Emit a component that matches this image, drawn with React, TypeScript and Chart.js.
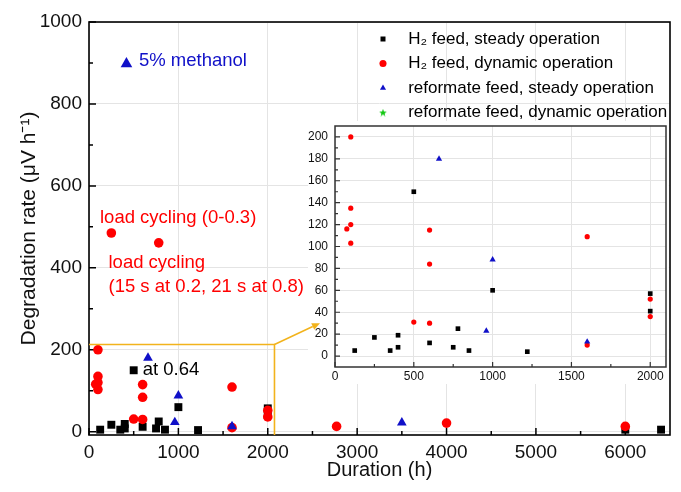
import React, { useEffect, useRef } from "react";
import { Chart, registerables } from "chart.js";
Chart.register(...registerables);

const FONT = '"Liberation Sans", Arial, Helvetica, sans-serif';

// ---------------- data ----------------
const seriesNames = [
  "H\u2082 feed, steady operation",
  "H\u2082 feed, dynamic operation",
  "reformate feed, steady operation",
  "reformate feed, dynamic operation",
];

const h2SteadyX = [125, 250, 350, 400, 400, 500, 600, 750, 780, 850, 1000, 1220, 2000, 2000, 6000, 6400];
const h2SteadyY = [5, 17, 5, 19, 8, 150, 12, 8, 25, 5, 60, 4, 57, 41, 5, 5];

const h2DynamicX = [75, 100, 100, 100, 100, 250, 500, 600, 600, 600, 780, 1600, 1600, 2000, 2000, 2770, 4000, 6000];
const h2DynamicY = [116, 200, 135, 120, 103, 485, 31, 115, 84, 30, 461, 109, 10, 52, 36, 13, 21, 13];

const refSteadyX = [660, 960, 1000, 1600, 3500];
const refSteadyY = [180, 23, 88, 13, 22];

const refDynamicX = [960, 4030, 4170];
const refDynamicY = [22, 9, 10];

const mainXTicks = [0, 1000, 2000, 3000, 4000, 5000, 6000];
const mainXMinor = [500, 1500, 2500, 3500, 4500, 5500];
const mainYTicks = [0, 200, 400, 600, 800, 1000];
const mainYMinor = [100, 300, 500, 700, 900];

const insetXTicks = [0, 500, 1000, 1500, 2000];
const insetXMinor = [250, 750, 1250, 1750];
const insetYTicks = [0, 20, 40, 60, 80, 100, 120, 140, 160, 180, 200];
const insetYMinor = [10, 30, 50, 70, 90, 110, 130, 150, 170, 190];

const MAIN_X_RANGE = [0, 6500];
const MAIN_Y_RANGE = [-8, 1000];
const INSET_X_RANGE = [0, 2100];
const INSET_Y_RANGE = [-10, 210];

// zoom box (region shown in inset) and arrow tip, in main-chart data units
const zoomBox = [2075, 213];
const arrowTip = [2584, 265];

const textNotes = [
  { text: "5% methanol", x: 559, y: 905, color: "#1010c8" },
  { text: "at 0.64", x: 600, y: 150, color: "#000000" },
  { text: "load cycling (0-0.3)", x: 123, y: 522, color: "#ff0000" },
  { text: "load cycling", x: 218, y: 412, color: "#ff0000" },
  { text: "(15 s at 0.2, 21 s at 0.8)", x: 218, y: 353, color: "#ff0000" },
];
const methanolMarker = [419, 898];

// ---------------- styles ----------------
const colors = ["#000000", "#ff0000", "#1010c8", "#14c814"];
const styles = ["rect", "circle", "triangle", "star"];

// inset canvas placement and its white panel (page pixels)
const INSET_LEFT = 306;
const INSET_TOP = 121;
const INSET_W = 364;
const INSET_H = 263;
const PANEL = { left: 308, top: 121, right: 668.8, bottom: 384 };

function makeStar(size: number, color: string) {
  const c = document.createElement("canvas");
  c.width = size;
  c.height = size;
  const ctx = c.getContext("2d")!;
  const R = size / 2;
  const r = R * 0.42;
  const cx = size / 2;
  const cy = size / 2 + R * 0.1;
  ctx.beginPath();
  for (let i = 0; i < 10; i++) {
    const a = -Math.PI / 2 + (i * Math.PI) / 5;
    const rr = i % 2 === 0 ? R : r;
    ctx.lineTo(cx + rr * Math.cos(a), cy + rr * Math.sin(a));
  }
  ctx.closePath();
  ctx.fillStyle = color;
  ctx.fill();
  return c;
}

function pts(xs: number[], ys: number[], filter?: (x: number, y: number) => boolean) {
  const out: { x: number; y: number }[] = [];
  xs.forEach((x, i) => {
    if (!filter || filter(x, ys[i])) out.push({ x, y: ys[i] });
  });
  return out;
}

function buildDatasets(sizes: number[], star: HTMLCanvasElement, filter?: (x: number, y: number) => boolean) {
  const xsAll = [h2SteadyX, h2DynamicX, refSteadyX, refDynamicX];
  const ysAll = [h2SteadyY, h2DynamicY, refSteadyY, refDynamicY];
  return seriesNames.map((name, i) => ({
    label: name,
    data: pts(xsAll[i], ysAll[i], filter),
    pointStyle: i === 3 ? star : styles[i],
    pointRadius: sizes[i],
    backgroundColor: colors[i],
    borderColor: colors[i],
    borderWidth: 0,
    showLine: false,
    order: 4 - i,
  }));
}

// inward tick marks + frame
const frameTicks = {
  id: "frameTicks",
  beforeDatasetsDraw(chart: any, _a: any, o: any) {
    const { ctx, chartArea: a, scales } = chart;
    const x = scales.x;
    const y = scales.y;
    ctx.save();
    if (o.panel) {
      ctx.fillStyle = "#ffffff";
      ctx.fillRect(o.panel.left, o.panel.top, o.panel.right - o.panel.left, o.panel.bottom - o.panel.top);
    }
    ctx.strokeStyle = o.color;
    ctx.lineWidth = o.width;
    ctx.beginPath();
    const xt = (vals: number[], len: number) =>
      vals.forEach((v) => {
        const px = x.getPixelForValue(v);
        ctx.moveTo(px, a.bottom);
        ctx.lineTo(px, a.bottom - len);
      });
    const yt = (vals: number[], len: number) =>
      vals.forEach((v) => {
        const py = y.getPixelForValue(v);
        ctx.moveTo(a.left, py);
        ctx.lineTo(a.left + len, py);
      });
    xt(o.xMajor, o.major);
    xt(o.xMinor, o.minor);
    yt(o.yMajor, o.major);
    yt(o.yMinor, o.minor);
    ctx.stroke();
    ctx.lineWidth = o.frameWidth;
    ctx.strokeRect(a.left, a.top, a.right - a.left, a.bottom - a.top);
    ctx.restore();
  },
};

const notes = {
  id: "notes",
  afterDatasetsDraw(chart: any) {
    const { ctx, chartArea: a, scales } = chart;
    const x = scales.x;
    const y = scales.y;
    ctx.save();
    // zoom box
    const bx = x.getPixelForValue(zoomBox[0]);
    const by = y.getPixelForValue(zoomBox[1]);
    ctx.strokeStyle = "#f2b31c";
    ctx.lineWidth = 1.6;
    ctx.beginPath();
    ctx.moveTo(a.left, by);
    ctx.lineTo(bx, by);
    ctx.lineTo(bx, a.bottom);
    ctx.stroke();
    // arrow
    const tx = x.getPixelForValue(arrowTip[0]);
    const ty = y.getPixelForValue(arrowTip[1]);
    const ang = Math.atan2(ty - by, tx - bx);
    const hl = 8;
    const hw = 3.5;
    const baseX = tx - hl * Math.cos(ang);
    const baseY = ty - hl * Math.sin(ang);
    ctx.beginPath();
    ctx.moveTo(bx, by);
    ctx.lineTo(baseX, baseY);
    ctx.stroke();
    ctx.fillStyle = "#f2b31c";
    ctx.beginPath();
    ctx.moveTo(tx, ty);
    ctx.lineTo(baseX + hw * Math.sin(ang), baseY - hw * Math.cos(ang));
    ctx.lineTo(baseX - hw * Math.sin(ang), baseY + hw * Math.cos(ang));
    ctx.closePath();
    ctx.fill();
    // methanol marker
    ctx.fillStyle = colors[2];
    const mx = x.getPixelForValue(methanolMarker[0]);
    const my = y.getPixelForValue(methanolMarker[1]);
    const r = 6.7;
    ctx.beginPath();
    ctx.moveTo(mx, my - r);
    ctx.lineTo(mx + (r * Math.sqrt(3)) / 2, my + r / 2);
    ctx.lineTo(mx - (r * Math.sqrt(3)) / 2, my + r / 2);
    ctx.closePath();
    ctx.fill();
    // texts
    ctx.font = `18.5px ${FONT}`;
    ctx.textBaseline = "middle";
    ctx.textAlign = "left";
    textNotes.forEach((t) => {
      ctx.fillStyle = t.color;
      ctx.fillText(t.text, x.getPixelForValue(t.x), y.getPixelForValue(t.y));
    });
    ctx.restore();
  },
};

const LEGEND_LEFT = 373;
const LEGEND_TOP = 23;
const legendMover = {
  id: "legendMover",
  afterLayout(chart: any) {
    const lg = chart.legend;
    if (!lg) return;
    const a = chart.chartArea;
    lg.left = LEGEND_LEFT;
    lg.top = LEGEND_TOP;
    lg.right = a.right;
    lg.bottom = a.bottom;
  },
};

function scaleOpts(
  range: number[],
  ticks: number[],
  fontSize: number,
  pad: number,
  size: { w?: number; h?: number },
  title?: any
) {
  return {
    type: "linear",
    min: range[0],
    max: range[1],
    afterBuildTicks: (s: any) => {
      s.ticks = ticks.map((v) => ({ value: v }));
    },
    afterFit: (s: any) => {
      if (size.w !== undefined) s.width = size.w;
      if (size.h !== undefined) s.height = size.h;
      s.paddingTop = 0;
      s.paddingBottom = 0;
      s.paddingLeft = 0;
      s.paddingRight = 0;
    },
    grid: { color: "#e4e4e4", lineWidth: 1, drawTicks: false },
    border: { display: false },
    ticks: {
      autoSkip: false,
      maxRotation: 0,
      padding: pad,
      color: "#111",
      font: { family: FONT, size: fontSize },
      callback: (v: any) => String(v),
    },
    title: title || { display: false },
  };
}

export default function App() {
  const mainRef = useRef<HTMLCanvasElement>(null);
  const insetRef = useRef<HTMLCanvasElement>(null);

  useEffect(() => {
    const bigStar = makeStar(11, colors[3]);
    const smallStar = makeStar(7, colors[3]);
    const legendStar = makeStar(8, colors[3]);

    const main = new Chart(mainRef.current!, {
      type: "scatter",
      data: { datasets: buildDatasets([5.6, 4.8, 5.6, 0], bigStar) as any },
      options: {
        responsive: false,
        animation: false,
        events: [],
        layout: { padding: { top: 22, right: 11, left: 0, bottom: 0 } },
        plugins: {
          tooltip: { enabled: false },
          legend: {
            display: true,
            position: "chartArea",
            align: "start",
            labels: {
              usePointStyle: true,
              boxWidth: 5,
              boxHeight: 5,
              padding: 7.5,
              color: "#000",
              font: { family: FONT, size: 17 },
              generateLabels: (chart: any) =>
                chart.data.datasets.map((ds: any, i: number) => ({
                  text: "   " + ds.label,
                  fillStyle: ds.backgroundColor,
                  strokeStyle: ds.borderColor,
                  lineWidth: 0,
                  pointStyle: i === 3 ? legendStar : ds.pointStyle,
                  hidden: false,
                  datasetIndex: i,
                  fontColor: "#000",
                })),
            },
          } as any,
          frameTicks: {
            color: "#000",
            width: 1.5,
            frameWidth: 1.6,
            major: 7,
            minor: 4,
            xMajor: mainXTicks,
            xMinor: mainXMinor,
            yMajor: mainYTicks,
            yMinor: mainYMinor,
            panel: PANEL,
          },
        } as any,
        scales: {
          x: scaleOpts(MAIN_X_RANGE, mainXTicks, 19, 6, { h: 57 }, {
            display: true,
            text: "Duration (h)",
            color: "#111",
            font: { family: FONT, size: 20 },
            padding: { top: 0, bottom: 10 },
          }),
          y: scaleOpts(MAIN_Y_RANGE, mainYTicks, 19, 7, { w: 89 }, {
            display: true,
            text: "Degradation rate (\u03bcV h\u207b\u00b9)",
            color: "#111",
            font: { family: FONT, size: 21 },
            padding: { top: 16.5, bottom: 0 },
          }),
        } as any,
      },
      plugins: [frameTicks, notes, legendMover],
    } as any);

    const inFilter = (x: number, y: number) =>
      x <= INSET_X_RANGE[1] && y <= INSET_Y_RANGE[1];

    const inset = new Chart(insetRef.current!, {
      type: "scatter",
      data: { datasets: buildDatasets([3.3, 2.6, 3.6, 0], smallStar, inFilter) as any },
      options: {
        responsive: false,
        animation: false,
        events: [],
        layout: { padding: { top: 5, right: 3, left: 0, bottom: 0 } },
        plugins: {
          tooltip: { enabled: false },
          legend: { display: false },
          frameTicks: {
            color: "#333",
            width: 1.2,
            frameWidth: 1.5,
            major: 5,
            minor: 3,
            xMajor: insetXTicks,
            xMinor: insetXMinor,
            yMajor: insetYTicks,
            yMinor: insetYMinor,
          },
        } as any,
        scales: {
          x: scaleOpts(INSET_X_RANGE, insetXTicks, 12, 2.8, { h: 17 }),
          y: scaleOpts(INSET_Y_RANGE, insetYTicks, 12, 7, { w: 29 }),
        } as any,
      },
      plugins: [frameTicks],
    } as any);

    return () => {
      main.destroy();
      inset.destroy();
    };
  }, []);

  return (
    <div style={{ position: "absolute", left: 0, top: 0, width: 681, height: 492, background: "#fff" }}>
      <canvas ref={mainRef} width={681} height={492} style={{ position: "absolute", left: 0, top: 0 }} />
      <canvas
        ref={insetRef}
        width={INSET_W}
        height={INSET_H}
        style={{ position: "absolute", left: INSET_LEFT, top: INSET_TOP }}
      />
    </div>
  );
}
